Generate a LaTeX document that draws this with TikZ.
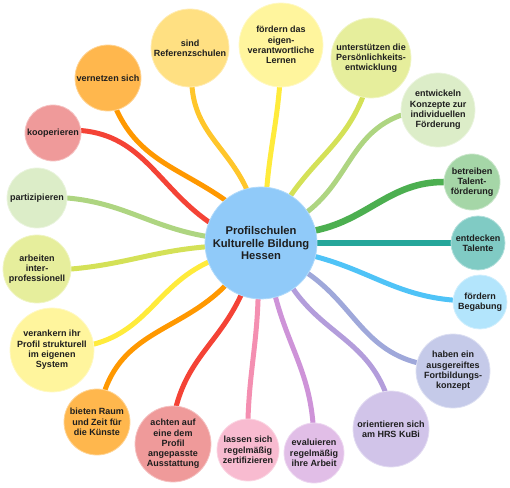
\documentclass[tikz,border=0pt]{standalone}
\usepackage{fontspec}
\setmainfont{Liberation Sans}
\usetikzlibrary{backgrounds}
\definecolor{txt}{HTML}{1E1E1E}
\definecolor{fCtr}{HTML}{90CAF9}
\definecolor{fRef}{HTML}{FFE082}\definecolor{lRef}{HTML}{FFC62B}
\definecolor{fVern}{HTML}{FFB74D}\definecolor{lVern}{HTML}{FF9800}
\definecolor{fKoop}{HTML}{EF9A9A}\definecolor{lKoop}{HTML}{F44336}
\definecolor{fEigen}{HTML}{FFF59D}\definecolor{lEigen}{HTML}{FFEB3B}
\definecolor{fPers}{HTML}{E6EE9C}\definecolor{lPers}{HTML}{D4E157}
\definecolor{fKonz}{HTML}{DCEDC8}\definecolor{lKonz}{HTML}{AED581}
\definecolor{fTalA}{HTML}{A5D6A7}\definecolor{lTalA}{HTML}{4CAF50}
\definecolor{fTalB}{HTML}{80CBC4}\definecolor{lTalB}{HTML}{26A69A}
\definecolor{fBeg}{HTML}{B3E5FC}\definecolor{lBeg}{HTML}{4FC3F7}
\definecolor{fFort}{HTML}{C5CAE9}\definecolor{lFort}{HTML}{9FA8DA}
\definecolor{fHrs}{HTML}{D1C4E9}\definecolor{lHrs}{HTML}{B39DDB}
\definecolor{fEval}{HTML}{E1BEE7}\definecolor{lEval}{HTML}{CE93D8}
\definecolor{fZert}{HTML}{F8BBD0}\definecolor{lZert}{HTML}{F48FB1}
\tikzset{
  sat/.style={circle, inner sep=0pt, align=center, text=txt,
    font=\fontsize{9}{10.3}\selectfont\bfseries, line width=0.8pt},
  hub/.style={circle, inner sep=0pt, align=center, text=txt,
    font=\fontsize{11.2}{12.8}\selectfont\bfseries, line width=0.8pt},
  conn/.style={line width=5pt, line cap=round},
  thick conn/.style={line width=6.5pt, line cap=round}
}
\begin{document}
\begin{tikzpicture}[x=1pt,y=1pt]
\useasboundingbox (0,0) rectangle (510,487);
% hub
\node[hub, minimum size=112pt, fill=fCtr, draw=fCtr!70!white] (ctr) at (261,244)
  {Profilschulen\\Kulturelle Bildung\\Hessen};
% satellites
\node[sat, minimum size=78pt, fill=fRef, draw=fRef!60!white] (ref) at (190,439) {sind\\Referenzschulen};
\node[sat, minimum size=66pt, fill=fVern, draw=fVern!60!white] (vern) at (108,409) {vernetzen sich};
\node[sat, minimum size=56pt, fill=fKoop, draw=fKoop!60!white] (koop) at (53,354) {kooperieren};
\node[sat, minimum size=84pt, fill=fEigen, draw=fEigen!60!white] (eigen) at (281,442) {fördern das\\eigen-\\verantwortliche\\Lernen};
\node[sat, minimum size=80pt, fill=fPers, draw=fPers!60!white] (pers) at (371,429) {unterstützen die\\Persönlichkeits-\\entwicklung};
\node[sat, minimum size=74pt, fill=fKonz, draw=fKonz!60!white] (konz) at (438,377) {entwickeln\\Konzepte zur\\individuellen\\Förderung};
\node[sat, minimum size=56pt, fill=fTalA, draw=fTalA!60!white] (tala) at (472,305) {betreiben\\Talent-\\förderung};
\node[sat, minimum size=54pt, fill=fTalB, draw=fTalB!60!white] (talb) at (478,244) {entdecken\\Talente};
\node[sat, minimum size=54pt, fill=fBeg, draw=fBeg!60!white] (beg) at (480,185) {fördern\\Begabung};
\node[sat, minimum size=74pt, fill=fFort, draw=fFort!60!white] (fort) at (453,116) {haben ein\\ausgereiftes\\Fortbildungs-\\konzept};
\node[sat, minimum size=76pt, fill=fHrs, draw=fHrs!60!white] (hrs) at (391,58) {orientieren sich\\am HRS KuBi};
\node[sat, minimum size=60pt, fill=fEval, draw=fEval!60!white] (eval) at (314,34) {evaluieren\\regelmäßig\\ihre Arbeit};
\node[sat, minimum size=62pt, fill=fZert, draw=fZert!60!white] (zert) at (248,37) {lassen sich\\regelmäßig\\zertifizieren};
\node[sat, minimum size=76pt, fill=fKoop, draw=fKoop!60!white] (aus) at (173,43) {achten auf\\eine dem\\Profil\\angepasste\\Ausstattung};
\node[sat, minimum size=66pt, fill=fVern, draw=fVern!60!white] (kuen) at (97,65) {bieten Raum\\und Zeit für\\die Künste};
\node[sat, minimum size=84pt, fill=fEigen, draw=fEigen!60!white] (ver) at (52,137) {verankern ihr\\Profil strukturell\\im eigenen\\System};
\node[sat, minimum size=68pt, fill=fPers, draw=fPers!60!white] (arb) at (37,218) {arbeiten\\inter-\\professionell};
\node[sat, minimum size=60pt, fill=fKonz, draw=fKonz!60!white] (part) at (37,289) {partizipieren};
% connectors
\begin{scope}[on background layer]
\draw[conn, lRef] (ref.-87) to[out=-85, in=115] (ctr.105);
\draw[conn, lVern] (vern.-75) to[out=-65, in=145] (ctr.130);
\draw[conn, lKoop] (koop.5) to[out=-5, in=145] (ctr.158);
\draw[conn, lEigen] (eigen.-92) to[out=-95, in=85] (ctr.84);
\draw[conn, lPers] (pers.-102) to[out=-112, in=55] (ctr.58);
\draw[conn, lKonz] (konz.188) to[out=200, in=38] (ctr.34);
\draw[thick conn, lTalA] (tala.180) to[out=180, in=12] (ctr.13);
\draw[thick conn, lTalB] (talb.180) -- (ctr.0);
\draw[conn, lBeg] (beg.176) to[out=175, in=-15] (ctr.-14);
\draw[conn, lFort] (fort.167) to[out=165, in=-35] (ctr.-33);
\draw[conn, lHrs] (hrs.99) to[out=112, in=-55] (ctr.-55);
\draw[conn, lEval] (eval.92) to[out=95, in=-75] (ctr.-75);
\draw[conn, lZert] (zert.90) to[out=88, in=-92] (ctr.-93);
\draw[conn, lKoop] (aus.85) to[out=75, in=-115] (ctr.-111);
\draw[conn, lVern] (kuen.76) to[out=70, in=-135] (ctr.-130);
\draw[conn, lEigen] (ver.8) to[out=15, in=205] (ctr.200);
\draw[conn, lPers] (arb.0) to[out=5, in=185] (ctr.184);
\draw[conn, lKonz] (part.0) to[out=-5, in=170] (ctr.173);
\end{scope}
\end{tikzpicture}
\end{document}
